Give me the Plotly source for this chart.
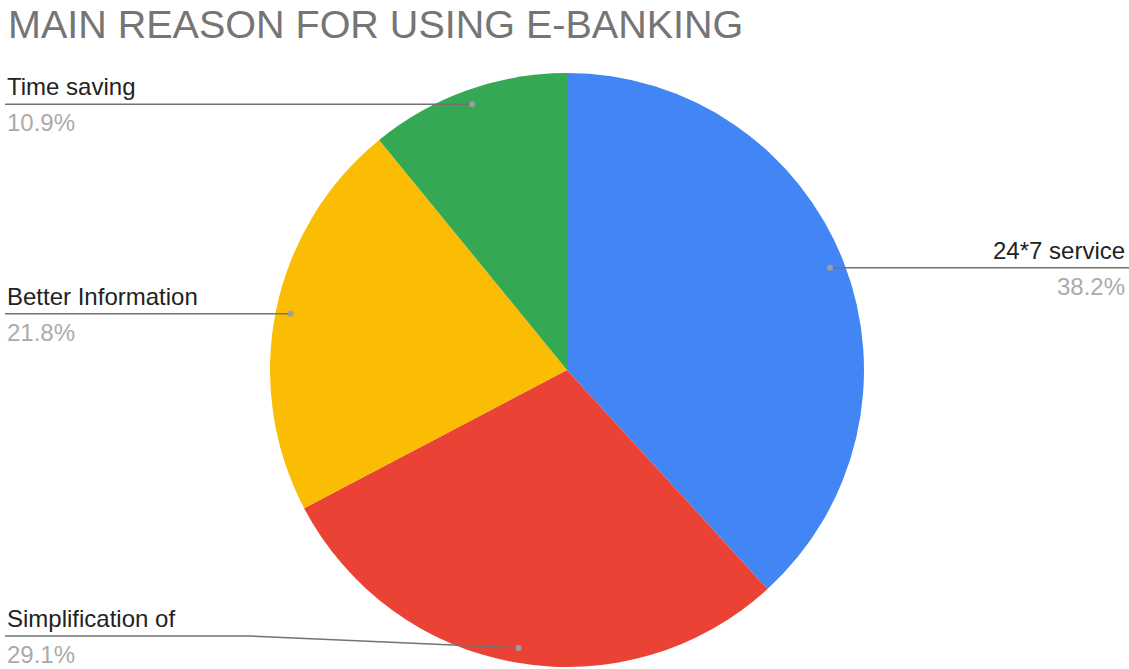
import math
import plotly.graph_objects as go

# Survey shares (percent), clockwise from 12 o'clock
reasons = ["24*7 service", "Simplification of", "Better Information", "Time saving"]
shares = [38.2, 29.1, 21.8, 10.9]
colors = ["#4285F4", "#EA4335", "#FBBC04", "#34A853"]

title_text = "MAIN REASON FOR USING E-BANKING"

W, H = 1129, 669
PIE_CX, PIE_CY, PIE_R = 567, 370, 297   # pixel geometry of the pie
DOT_R = 0.95 * PIE_R                    # radius where leader lines start
LABEL_Y_MIN, LABEL_Y_MAX = 100, 636     # vertical room for outside labels
LEFT_X, RIGHT_X = 5, 1127
BEND_X = 250                            # where a clamped left leader bends

def px(x):
    return x / W

def py(y):
    return 1 - y / H

fig = go.Figure(
    go.Pie(
        labels=reasons,
        values=shares,
        marker=dict(colors=colors, line=dict(width=0)),
        sort=False,
        direction="clockwise",
        rotation=0,
        textinfo="none",
        hoverinfo="label+percent",
        showlegend=False,
        domain=dict(
            x=[px(PIE_CX - PIE_R), px(PIE_CX + PIE_R)],
            y=[py(PIE_CY + PIE_R), py(PIE_CY - PIE_R)],
        ),
    )
)

shapes = []
annotations = [
    dict(
        text=title_text, x=px(6), y=py(0), xref="paper", yref="paper",
        xanchor="left", yanchor="top", showarrow=False,
        font=dict(family="Arial, Liberation Sans", size=39.5, color="#757575"),
    )
]

total = sum(shares)
cum = 0.0
for name, val in zip(reasons, shares):
    mid = (cum + val / 2) / total * 2 * math.pi
    cum += val
    dx = PIE_CX + DOT_R * math.sin(mid)
    dy = PIE_CY - DOT_R * math.cos(mid)
    ly = min(max(dy, LABEL_Y_MIN), LABEL_Y_MAX)
    right = math.sin(mid) > 0
    pct = f"{val / total * 100:.1f}%"

    if right:
        path = f"M {px(dx)} {py(dy)} L {px(W)} {py(ly)}"
        tx, anchor = RIGHT_X, "right"
    else:
        if abs(ly - dy) > 0.5:
            path = (f"M {px(LEFT_X)} {py(ly)} L {px(BEND_X)} {py(ly)} "
                    f"L {px(dx)} {py(dy)}")
        else:
            path = f"M {px(LEFT_X)} {py(ly)} L {px(dx)} {py(dy)}"
        tx, anchor = LEFT_X, "left"

    shapes.append(dict(type="path", path=path, xref="paper", yref="paper",
                       line=dict(color="#737373", width=1.5)))
    shapes.append(dict(type="circle", xref="paper", yref="paper",
                       x0=px(dx - 3), x1=px(dx + 3), y0=py(dy + 3), y1=py(dy - 3),
                       fillcolor="#9E9E9E", line=dict(width=0)))

    annotations.append(dict(
        text=name, x=px(tx), y=py(ly - 2), xref="paper", yref="paper",
        xanchor=anchor, yanchor="bottom", showarrow=False,
        font=dict(family="Arial, Liberation Sans", size=24, color="#222222"),
    ))
    annotations.append(dict(
        text=pct, x=px(tx), y=py(ly + 3), xref="paper", yref="paper",
        xanchor=anchor, yanchor="top", showarrow=False,
        font=dict(family="Arial, Liberation Sans", size=24, color="#ABABAB"),
    ))

fig.update_layout(
    width=W, height=H,
    margin=dict(l=0, r=0, t=0, b=0),
    paper_bgcolor="white",
    plot_bgcolor="white",
    shapes=shapes,
    annotations=annotations,
)

fig.write_html("out.html")
